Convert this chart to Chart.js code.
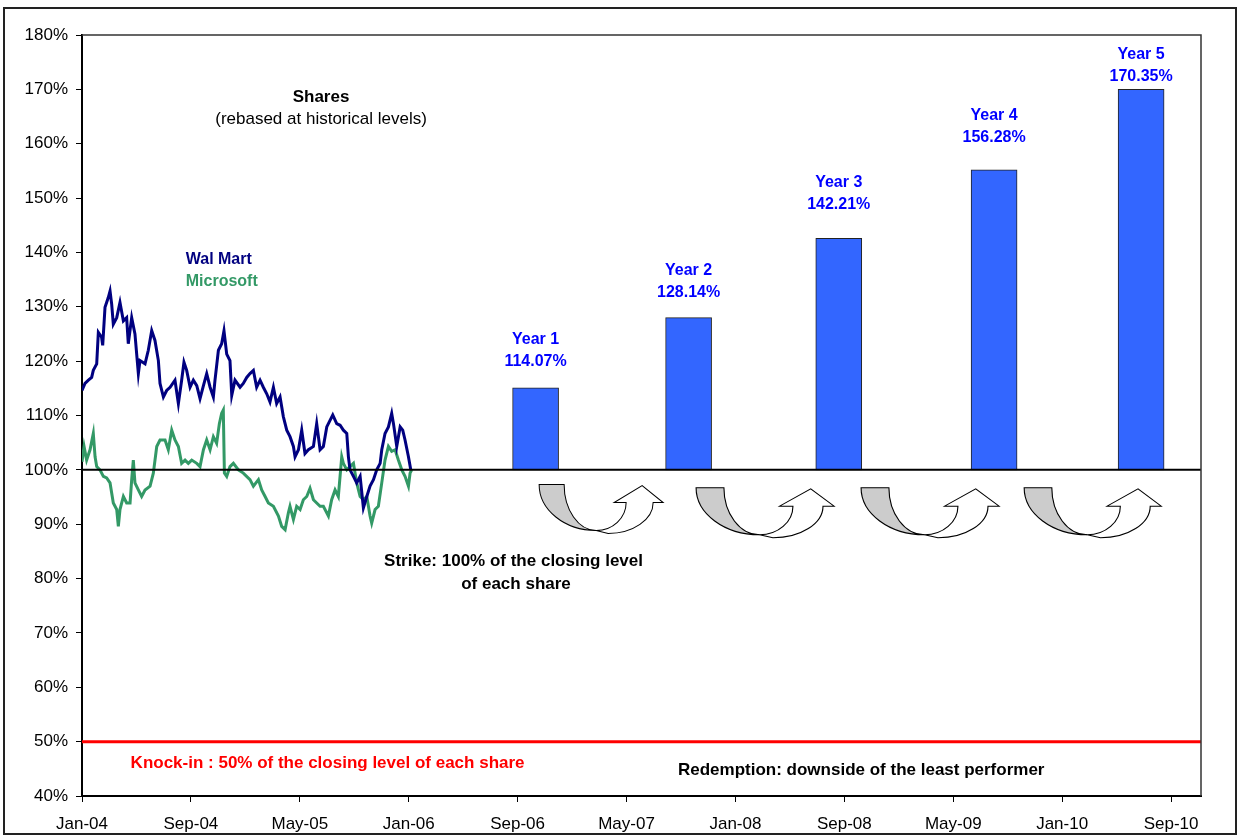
<!DOCTYPE html>
<html>
<head>
<meta charset="utf-8">
<script src="https://cdn.jsdelivr.net/npm/chart.js@4.4.0/dist/chart.umd.min.js"></script>
<style>
  html, body { margin: 0; padding: 0; background: #fff; }
  #wrap { width: 1245px; height: 836px; }
</style>
</head>
<body>
<div id="wrap"><canvas id="chart" width="1245" height="836"></canvas></div>
<script>
// x values are months counted from Jan-04
var xTickLabels = ["Jan-04", "Sep-04", "May-05", "Jan-06", "Sep-06", "May-07",
                   "Jan-08", "Sep-08", "May-09", "Jan-10", "Sep-10"];
var xEnd = 82.2;

var walMartMonths = [0,0.22,0.47,0.71,0.83,1.08,1.20,1.44,1.52,1.69,
  1.93,2.06,2.18,2.30,2.55,2.79,3.04,3.28,3.40,3.65,
  3.89,4.14,4.26,4.63,4.87,5.12,5.36,5.61,5.73,5.98,
  6.22,6.47,6.83,7.08,7.32,7.49,7.69,7.94,8.18,8.43,
  8.67,8.92,9.16,9.41,9.65,9.77,10.02,10.26,10.43,10.63,
  10.87,11.00,11.24,11.61,11.85,12.10,12.34,12.59,12.83,13.08,
  13.32,13.57,13.81,14.06,14.30,14.55,14.79,15.04,15.28,15.53,
  15.65,15.90,16.14,16.38,16.63,17.00,17.24,17.49,17.73,17.98,
  18.22,18.42,18.71,18.96,19.20,19.45,19.57,19.69,19.94,20.18,
  20.43,20.67,20.92,21.16,21.41,21.65,21.90,22.02,22.26,22.51,
  22.75,22.88,23.12,23.37,23.56,23.73,23.98,24.15];
var walMartLevels = [114.6,115.9,116.5,117.0,118.3,119.5,125.3,124.4,122.9,129.9,
  131.7,132.9,130.5,126.8,128.0,130.8,127.4,128.0,123.2,128.0,
  125.0,117.7,120.1,119.5,122.0,125.6,123.8,120.1,115.9,113.4,
  114.6,115.2,116.5,112.2,116.5,119.8,118.3,115.2,116.5,115.5,
  113.1,115.5,117.7,115.2,113.4,116.5,122.0,123.2,125.6,121.3,
  120.1,113.7,116.5,115.2,115.9,117.0,117.7,118.3,115.2,116.5,
  115.2,114.0,112.5,115.2,112.2,113.4,109.8,107.3,106.1,104.3,
  102.4,103.7,107.3,103.0,103.7,104.3,108.5,103.7,104.3,107.9,
  109.1,110.1,108.5,108.2,107.3,106.7,102.4,100.0,98.8,97.6,
  98.8,93.0,95.1,97.0,98.2,100.0,101.2,103.7,106.7,107.9,
  110.4,108.5,104.3,107.9,107.3,105.5,102.4,100.0];

var msftMonths = [0,0.15,0.34,0.59,0.83,0.96,1.08,1.32,1.57,1.81,
  2.06,2.30,2.55,2.67,2.79,3.04,3.28,3.53,3.65,3.77,
  3.89,4.14,4.38,4.63,5.00,5.24,5.49,5.73,6.10,6.34,
  6.59,6.83,7.08,7.32,7.57,7.81,8.06,8.43,8.67,8.92,
  9.16,9.41,9.65,9.89,10.09,10.26,10.38,10.46,10.63,10.87,
  11.12,11.49,11.85,12.34,12.59,12.96,13.20,13.45,13.69,14.06,
  14.43,14.67,14.92,15.16,15.28,15.53,15.77,16.02,16.26,16.51,
  16.75,17.00,17.24,17.49,17.73,18.10,18.34,18.59,18.83,19.08,
  19.20,19.45,19.69,19.94,20.18,20.43,20.67,20.92,21.16,21.28,
  21.53,21.77,22.02,22.26,22.51,22.75,23.00,23.24,23.49,23.73,
  23.98,24.10,24.22];
var msftLevels = [101.5,104.3,101.8,103.7,106.7,102.4,100.6,100.0,98.8,98.5,
  97.6,93.9,92.7,89.6,92.7,95.1,93.9,93.9,98.2,101.8,
  97.6,96.3,95.1,96.3,97.0,99.4,104.3,105.5,105.5,103.7,
  107.3,105.5,104.3,101.2,101.8,101.2,101.8,101.2,100.6,103.7,
  105.5,103.7,106.1,104.9,108.5,110.4,111.0,99.4,98.8,100.6,
  101.2,100.0,99.4,98.2,97.0,98.2,96.3,95.1,93.9,93.3,
  91.5,89.6,89.0,92.1,93.3,90.9,93.3,92.7,94.5,95.1,
  96.6,94.5,93.9,93.3,93.3,91.5,94.5,96.3,95.1,102.4,
  101.2,100.0,100.6,101.2,97.6,95.1,94.5,95.1,91.5,90.2,
  92.7,93.3,97.6,101.8,104.3,103.4,103.7,101.8,100.0,98.8,
  97.0,99.4,100.0];

// annual observation bars (drawn height) and the printed coupons
var yearNames = ["Year 1", "Year 2", "Year 3", "Year 4", "Year 5"];
var yearMonths = [33.32, 44.56, 55.59, 67.0, 77.8];
var yearLevels = [115.1, 128.0, 142.6, 155.2, 170.0];
var yearLabels = ["114.07%", "128.14%", "142.21%", "156.28%", "170.35%"];
var strikeLevel = 100;
var knockInLevel = 50;

// label lift above each bar top (px)
var labelLift = [26, 25, 34, 32, 13];

// U-turn arrows placed between observations (months / %)
var arrows = [
  { from: 33.58, to: 42.69, top: 97.3, bottom: 88.3 },
  { from: 45.11, to: 55.25, top: 96.7, bottom: 87.5 },
  { from: 57.23, to: 67.37, top: 96.7, bottom: 87.5 },
  { from: 69.21, to: 79.28, top: 96.7, bottom: 87.5 }
];

var FONT = '"Liberation Sans", Arial, sans-serif';
Chart.defaults.font.family = FONT;
Chart.defaults.font.size = 17;
Chart.defaults.color = "#000";

function toPoints(xs, ys) {
  var out = [];
  for (let i = 0; i < xs.length; i++) out.push({ x: xs[i], y: ys[i] });
  return out;
}

function drawUturn(ctx, l, t, w, h) {
  ctx.save();
  ctx.translate(l, t);
  ctx.scale(w / 124, h / 49);
  ctx.lineWidth = 1;
  ctx.strokeStyle = "#000";
  // grey half going down
  ctx.beginPath();
  ctx.moveTo(0, 0);
  ctx.lineTo(25, 0);
  ctx.ellipse(57, 0, 32, 46, 0, Math.PI, Math.PI / 2, true);
  ctx.ellipse(57, 0, 57, 46, 0, Math.PI / 2, Math.PI, false);
  ctx.closePath();
  ctx.fillStyle = "#cccccc";
  ctx.fill();
  ctx.stroke();
  // white half going up with the head
  ctx.beginPath();
  ctx.moveTo(57, 46);
  ctx.ellipse(57, 18, 30, 28, 0, Math.PI / 2, 0, true);
  ctx.lineTo(75, 18);
  ctx.lineTo(103, 1);
  ctx.lineTo(124, 18);
  ctx.lineTo(114, 18);
  ctx.ellipse(69, 18, 45, 31, 0, 0, Math.PI / 2, false);
  ctx.closePath();
  ctx.fillStyle = "#ffffff";
  ctx.fill();
  ctx.stroke();
  ctx.restore();
}

function txt(ctx, s, x, y, font, color, align) {
  ctx.font = font;
  ctx.fillStyle = color;
  ctx.textAlign = align || "center";
  ctx.textBaseline = "middle";
  ctx.fillText(s, x, y);
}

var decor = {
  id: "decor",
  afterDraw(chart) {
    var ctx = chart.ctx, a = chart.chartArea, x = chart.scales.x, y = chart.scales.y;
    ctx.save();
    // top / right frame of the plot
    ctx.strokeStyle = "#333";
    ctx.lineWidth = 1.5;
    ctx.beginPath();
    ctx.moveTo(a.left, a.top);
    ctx.lineTo(a.right, a.top);
    ctx.lineTo(a.right, a.bottom);
    ctx.stroke();
    // outer frame
    ctx.strokeStyle = "#222";
    ctx.lineWidth = 2;
    ctx.strokeRect(4, 8, 1232, 826);

    arrows.forEach(function (r) {
      var l = x.getPixelForValue(r.from), rr = x.getPixelForValue(r.to);
      var t = y.getPixelForValue(r.top), b = y.getPixelForValue(r.bottom);
      drawUturn(ctx, l, t, rr - l, b - t);
    });

    var bold = "bold 17px " + FONT;
    var reg = "17px " + FONT;
    txt(ctx, "Shares", x.getPixelForValue(17.56), y.getPixelForValue(168.6), bold, "#000");
    txt(ctx, "(rebased at historical levels)", x.getPixelForValue(17.56), y.getPixelForValue(164.4), reg, "#000");
    txt(ctx, "Wal Mart", x.getPixelForValue(7.62), y.getPixelForValue(138.6), "bold 16px " + FONT, "#000080", "left");
    txt(ctx, "Microsoft", x.getPixelForValue(7.62), y.getPixelForValue(134.6), "bold 16px " + FONT, "#339966", "left");
    txt(ctx, "Strike: 100% of the closing level", x.getPixelForValue(31.7), y.getPixelForValue(83.2), bold, "#000");
    txt(ctx, "of each share", x.getPixelForValue(31.88), y.getPixelForValue(79.0), bold, "#000");
    txt(ctx, "Knock-in : 50% of the closing level of each share", x.getPixelForValue(3.57), y.getPixelForValue(46.0), bold, "#ff0000", "left");
    txt(ctx, "Redemption: downside of the least performer", x.getPixelForValue(43.78), y.getPixelForValue(44.8), bold, "#000", "left");

    for (let i = 0; i < yearNames.length; i++) {
      var cx = x.getPixelForValue(yearMonths[i]);
      var top = y.getPixelForValue(yearLevels[i]) - labelLift[i];
      txt(ctx, yearLabels[i], cx, top, "bold 16px " + FONT, "#0000ff");
      txt(ctx, yearNames[i], cx, top - 22, "bold 16px " + FONT, "#0000ff");
    }
    ctx.restore();
  }
};

var barData = [];
for (let i = 0; i < yearMonths.length; i++) {
  barData.push({ x: yearMonths[i], y: [strikeLevel, yearLevels[i]] });
}

var config = {
  type: "bar",
  data: {
    datasets: [
      {
        type: "line", label: "strike", order: 0,
        data: [{ x: 0, y: strikeLevel }, { x: xEnd, y: strikeLevel }],
        borderColor: "#000", borderWidth: 2, pointRadius: 0
      },
      {
        type: "line", label: "knock-in", order: 0,
        data: [{ x: 0, y: knockInLevel }, { x: xEnd, y: knockInLevel }],
        borderColor: "#ff0000", borderWidth: 3, pointRadius: 0
      },
      {
        type: "line", label: "Wal Mart", order: 1,
        data: toPoints(walMartMonths, walMartLevels),
        borderColor: "#000080", borderWidth: 3, pointRadius: 0, tension: 0
      },
      {
        type: "line", label: "Microsoft", order: 2,
        data: toPoints(msftMonths, msftLevels),
        borderColor: "#339966", borderWidth: 3, pointRadius: 0, tension: 0
      },
      {
        type: "bar", label: "Years", order: 3,
        data: barData,
        backgroundColor: "#3366ff", borderColor: "#222", borderWidth: 1,
        borderSkipped: false, barThickness: 46
      }
    ]
  },
  options: {
    responsive: false,
    animation: false,
    layout: { padding: { left: 0, top: 35, right: 44, bottom: 0 } },
    plugins: { legend: { display: false }, tooltip: { enabled: false } },
    scales: {
      x: {
        type: "linear", min: 0, max: xEnd, offset: false,
        border: { color: "#000", width: 2 },
        grid: { drawOnChartArea: false, offset: false, tickLength: 6, color: "#000" },
        ticks: {
          stepSize: 8, includeBounds: false, autoSkip: false, maxRotation: 0, padding: 12,
          callback: function (v) { return xTickLabels[v / 8]; }
        },
        afterFit: function (s) { s.height = 40; }
      },
      y: {
        min: 40, max: 180,
        border: { color: "#000", width: 2 },
        grid: { drawOnChartArea: false, tickLength: 6, color: "#000" },
        ticks: { stepSize: 10, padding: 8, callback: function (v) { return v + "%"; } },
        afterFit: function (s) { s.width = 82; }
      }
    }
  },
  plugins: [decor]
};

var chart = new Chart(document.getElementById("chart"), config);
</script>
</body>
</html>
